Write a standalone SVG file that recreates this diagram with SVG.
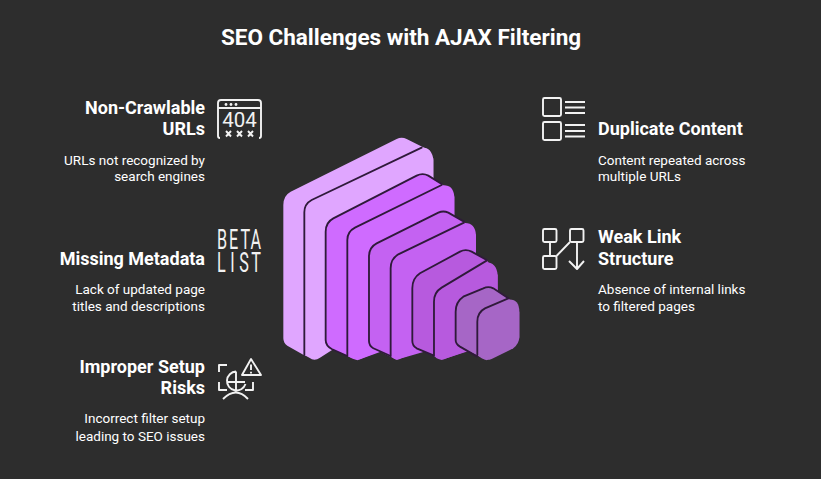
<svg xmlns="http://www.w3.org/2000/svg" width="821" height="479" viewBox="0 0 821 479">
<style>
.t{font-family:Roboto,"Liberation Sans",sans-serif;fill:#fff}
.title{font-size:22.5px;font-weight:700}
.h{font-size:18px;font-weight:700}
.d{font-size:13.500px}
.e{text-anchor:end}
.i{fill:none;stroke:#f2f2f2;stroke-width:1.900;stroke-linejoin:round}
.l{fill:none;stroke:#2f1a3a;stroke-width:5.500;stroke-linecap:round}
</style>
<rect width="821" height="479" fill="#2d2d2d"/>
<text class="t title" x="401" y="45" text-anchor="middle">SEO Challenges with AJAX Filtering</text>

<g id="funnel" transform="translate(270 125) scale(.3333)">
<path fill="#e0a6ff" d="M40 240Q40 212 62 200L380 42Q395 34 410 42L470 72L490 100V500L105 692L52 662Q40 654 40 640Z"/>
<path fill="#e0a6ff" d="M103 690V262Q103 237 125 225L440 70Q485 58 490 105V480L150 698Q133 710 118 698Z"/>
<path class="l" d="M103 690V262Q103 237 125 225L455 68"/>
<path fill="#cf6bff" d="M167 320Q167 292 190 280L440 152Q458 143 475 152L515 177L553 215V600L262 706L185 672Q167 662 167 645Z"/>
<path class="l" d="M232 693L185 672Q167 662 167 645V320Q167 292 190 280L440 152Q458 143 475 152L515 177"/>
<path fill="#cf6bff" d="M232 693V345Q232 320 255 308L510 182Q550 175 553 215V590L280 698Q262 708 245 700Z"/>
<path class="l" d="M232 693V345Q232 320 255 308L515 180"/>
<path fill="#c462f2" d="M297 395Q297 367 320 355L505 263Q520 256 535 263L582 290L618 330V620L380 704L310 670Q297 662 297 648Z"/>
<path class="l" d="M362 693L310 670Q297 662 297 648V395Q297 367 320 355L505 263Q520 256 535 263L582 290"/>
<path fill="#c462f2" d="M362 693V430Q362 402 385 388L575 295Q615 288 618 330V635L395 700Q380 708 370 700Z"/>
<path class="l" d="M362 693V430Q362 402 385 388L582 293"/>
<path fill="#b75ade" d="M427 490Q427 460 450 445L570 380Q587 371 605 380L650 405L683 450V650L515 704L440 670Q427 662 427 648Z"/>
<path class="l" d="M492 692L440 670Q427 662 427 648V490Q427 460 450 445L570 380Q587 371 605 380L650 405"/>
<path fill="#b75ade" d="M492 692V530Q492 502 515 488L640 412Q680 408 683 450V645L530 700Q515 708 500 700Z"/>
<path class="l" d="M492 692V530Q492 502 515 488L650 407"/>
<path fill="#a666c6" d="M557 560Q557 530 580 515L640 490Q655 483 670 490L715 520L748 560V640L650 706L570 665Q557 657 557 645Z"/>
<path class="l" d="M622 695L570 665Q557 657 557 645V560Q557 530 580 515L640 490Q655 483 670 490L715 520"/>
<path fill="#a666c6" d="M622 690V590Q622 562 645 550L710 524Q748 518 748 560V635Q748 655 730 670L665 702Q650 708 635 700Z"/>
<path class="l" d="M622 690V590Q622 562 645 550L715 520"/>
</g>

<g id="node-non-crawlable">
<text class="t h e" x="205" y="114">Non-Crawlable</text>
<text class="t h e" x="205" y="135">URLs</text>
<text class="t d e" x="205" y="165">URLs not recognized by</text>
<text class="t d e" x="205" y="181">search engines</text>
<path class="i" d="M220 138Q218 138 218 136V103Q218 100 221 100H258Q261 100 261 103V136Q261 138 259 138M218 108H261"/>
<g fill="#f2f2f2"><circle cx="226" cy="104.500" r="1.400"/><circle cx="231" cy="104.500" r="1.400"/><circle cx="236" cy="104.500" r="1.400"/></g>
<text x="239.500" y="127" text-anchor="middle" font-family="Roboto,'Liberation Sans',sans-serif" font-size="20.500" font-weight="400" fill="#f2f2f2">404</text>
<path class="i" d="M226 131l5 5.500m0-5.500l-5 5.500M237 131l5 5.500m0-5.500l-5 5.500M248 131l5 5.500m0-5.500l-5 5.500"/>
</g>

<g id="node-missing-metadata">
<text class="t h e" x="205" y="265">Missing Metadata</text>
<text class="t d e" x="205" y="294">Lack of updated page</text>
<text class="t d e" x="205" y="311">titles and descriptions</text>
<g font-family="Roboto,'Liberation Sans',sans-serif" font-size="27" font-weight="400" fill="#f2f2f2">
<text transform="translate(217 249) scale(.6 1)" x="0 20 39 56">BETA</text>
<text transform="translate(217 272) scale(.6 1)" x="0 22 37 57">LIST</text>
</g>
</g>

<g id="node-improper-setup">
<text class="t h e" x="205" y="373">Improper Setup</text>
<text class="t h e" x="205" y="394">Risks</text>
<text class="t d e" x="205" y="423">Incorrect filter setup</text>
<text class="t d e" x="205" y="441">leading to SEO issues</text>
<path class="i" d="M227 365H219V372M219 382V390H227M245 390H253V382"/>
<path class="i" d="M251 359L242 375H261Z"/>
<path class="i" d="M251 364.500V370M251 371.800V373.500" stroke-width="1.600"/>
<path class="i" d="M245.500 384A9.500 9.500 0 1 1 236 371.500M236 371.500V391M227 382H245M223 399Q236 386 248 399"/>
</g>

<g id="node-duplicate-content">
<text class="t h" x="598" y="135">Duplicate Content</text>
<text class="t d" x="598" y="165">Content repeated across</text>
<text class="t d" x="598" y="181">multiple URLs</text>
<rect class="i" x="543" y="98" width="18" height="18" rx="1.500"/>
<rect class="i" x="543" y="122" width="18" height="18" rx="1.500"/>
<path class="i" d="M565 102H585M565 107.500H585M565 113H585M565 125H585M565 131H585M565 136.500H585"/>
</g>

<g id="node-weak-link">
<text class="t h" x="598" y="243">Weak Link</text>
<text class="t h" x="598" y="265">Structure</text>
<text class="t d" x="598" y="294">Absence of internal links</text>
<text class="t d" x="598" y="311">to filtered pages</text>
<rect class="i" x="543" y="229" width="13.500" height="13" rx="1.500"/>
<rect class="i" x="570" y="229" width="13.500" height="13" rx="1.500"/>
<rect class="i" x="543" y="256" width="13.500" height="13" rx="1.500"/>
<path class="i" d="M550 242V256M570 242L556.500 256M577 242V269M569 261L577 269L584 261"/>
</g>
</svg>
